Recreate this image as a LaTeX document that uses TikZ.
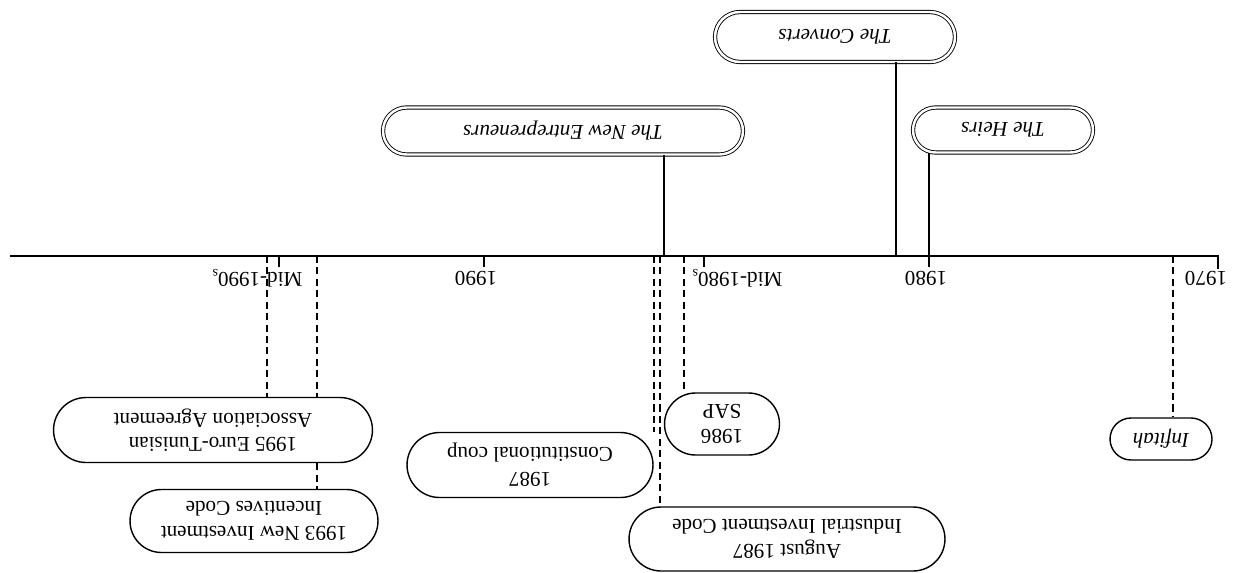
\documentclass[tikz,border=0pt]{standalone}
\usepackage{fontspec}
\setmainfont{Liberation Serif}
\usetikzlibrary{shapes.misc}

\begin{document}
\begin{tikzpicture}[x=0.02cm, y=-0.02cm,
    group/.style={rounded rectangle, draw=black, line width=0.5pt, double, double distance=1.4pt, inner sep=0pt, rotate=180, font=\fontsize{12}{14}\selectfont\itshape},
    event/.style={rounded rectangle, draw=black, line width=0.8pt, fill=white, inner sep=0pt, align=center, rotate=180, font=\fontsize{12}{14}\selectfont},
    yearlabel/.style={rotate=180, inner sep=0pt, font=\fontsize{12}{14}\selectfont},
    link/.style={line width=0.8pt},
    dashlink/.style={line width=0.8pt, dashed, dash pattern=on 4pt off 2.5pt}]
    \useasboundingbox (0,0) rectangle (1233,572);

    % Time axis
    \coordinate (start) at (10,256);
    \coordinate (end) at (1218,256);
    \draw [line width=0.9pt] (start) -- (end) -- ++(0,13);

    % Year ticks and labels
    \foreach \x in {929, 704, 484, 279}
        \draw [line width=0.8pt] (\x,256) -- (\x,267);
    \foreach \lx/\yr in {1206/1970, 926/1980, 737/Mid-1980\textsubscript{s}, 476/1990, 257/Mid-1990\textsubscript{s}}
        \node [yearlabel] at (\lx,278) {\yr};

    % Groups - above the axis
    \node [group, minimum width=4.8cm, minimum height=1.0cm] (converts) at (835,37) {The Converts};
    \node [group, minimum width=3.6cm, minimum height=0.9cm] (heirs) at (1003,130) {The Heirs};
    \node [group, minimum width=7.2cm, minimum height=0.94cm] (newent) at (563,131) {The New Entrepreneurs};

    % Events - below the axis
    \node [event, minimum width=2.04cm, minimum height=0.84cm] (infitah) at (1161,439) {\itshape Infitah};
    \node [event, minimum width=2.3cm, minimum height=1.24cm] (sap) at (722,424) {1986\\SAP};
    \node [event, minimum width=4.92cm, minimum height=1.3cm] (coup) at (530,465) {1987\\Constitutional coup};
    \node [event, minimum width=6.32cm, minimum height=1.28cm] (invcode) at (787,539) {August 1987\\Industrial Investment Code};
    \node [event, minimum width=6.38cm, minimum height=1.3cm] (euro) at (213,430) {1995 Euro-Tunisian\\Association Agreement};
    \node [event, minimum width=4.96cm, minimum height=1.26cm] (incentives) at (254,521) {1993 New Investment\\Incentives Code};

    % Points on the axis
    \coordinate (t-converts) at (896,256);
    \coordinate (t-heirs) at (929,256);
    \coordinate (t-newent) at (664,256);
    \coordinate (t-infitah) at (1173,256);
    \coordinate (t-sap) at (684,256);
    \coordinate (t-coup) at (654,256);
    \coordinate (t-invcode) at (660,256);
    \coordinate (t-euro) at (267,256);
    \coordinate (t-incentives) at (317,256);

    % Solid links to the groups
    \draw [link] (t-converts) -- (t-converts |- converts.north);
    \draw [link] (t-heirs) -- (t-heirs |- heirs.north);
    \draw [link] (t-newent) -- (t-newent |- newent.north);

    % Dashed links to the events
    \draw [dashlink] (t-infitah) -- (t-infitah |- infitah.south);
    \draw [dashlink] (t-sap) -- (t-sap |- sap.south);
    \draw [dashlink] (t-coup) -- (t-coup |- coup.south);
    \draw [dashlink] (t-invcode) -- (t-invcode |- invcode.south);
    \draw [dashlink] (t-euro) -- (t-euro |- euro.south);
    \draw [dashlink] (t-incentives) -- (t-incentives |- euro.south);
    \draw [dashlink] (t-incentives |- euro.north) -- (t-incentives |- incentives.south);

\end{tikzpicture}
\end{document}
